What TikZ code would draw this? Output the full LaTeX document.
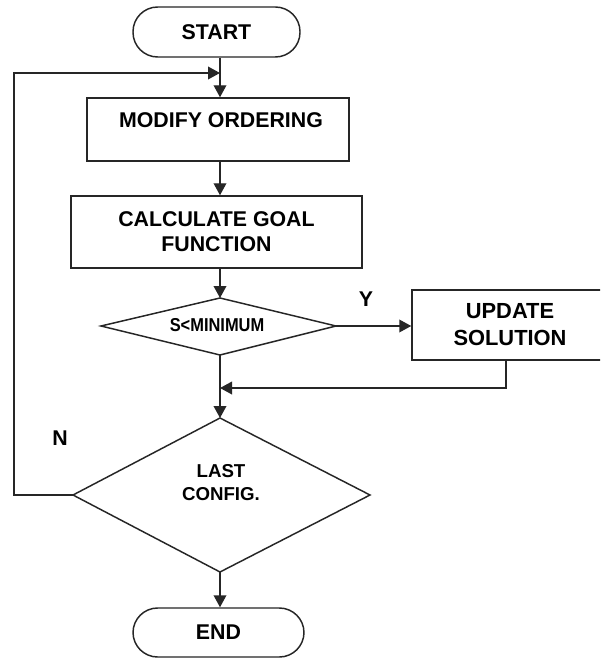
\documentclass[tikz,border=0pt]{standalone}
\usepackage{fontspec}
\setmainfont{Liberation Sans}
\usetikzlibrary{arrows.meta,calc}
\begin{document}
\begin{tikzpicture}[x=0.75pt,y=-0.75pt,
  line width=1.1pt,
  ln/.style={draw=black!85},
  arr/.style={ln,-{Triangle[length=9pt,width=9.5pt]}},
  boxnode/.style={draw=black!85,line width=1.1pt,rectangle,inner sep=0pt},
  term/.style={draw=black!85,line width=1.1pt,rectangle,rounded corners=18.5pt,inner sep=0pt,font=\fontsize{16}{19}\selectfont\bfseries},
  lbl/.style={inner sep=0pt,font=\fontsize{16}{19}\selectfont\bfseries,align=center},
  dlbl/.style={inner sep=0pt,font=\fontsize{14}{17.25}\selectfont\bfseries,align=center}]
\path[use as bounding box] (0,0) rectangle (600,659);
\clip (0,0) rectangle (600,659);
\fill[white] (0,0) rectangle (600,659);
\coordinate (ax) at (220,0);
% terminals
\node[term,minimum width=125.25pt,minimum height=37.5pt] (start) at (216.5,32) {START};
\node[term,minimum width=128.25pt,minimum height=36.75pt] (end) at (218.5,632.5) {END};
% modify ordering
\node[boxnode,minimum width=196.5pt,minimum height=47.25pt] (mod) at (218,129.5) {};
\node[lbl] (modt) at (221,120) {MODIFY ORDERING};
% calculate goal function
\node[boxnode,minimum width=218.25pt,minimum height=54pt,lbl,draw=black!85,line width=1.1pt,font=\fontsize{16}{18.75}\selectfont\bfseries] (calc) at (216.5,232) {CALCULATE GOAL\\FUNCTION};
% update solution
\node[boxnode,minimum width=147pt,minimum height=52.5pt,lbl,draw=black!85,line width=1.1pt,font=\fontsize{16.4}{20.25}\selectfont\bfseries] (upd) at (510,325) {UPDATE\\SOLUTION};
% diamond 1
\coordinate (d1t) at (220,298);
\coordinate (d1r) at (336,326);
\coordinate (d1b) at (220,355);
\coordinate (d1l) at (101,326);
\draw[ln] (d1t) -- (d1r) -- (d1b) -- (d1l) -- cycle;
\node[dlbl] (d1txt) at (217,325.5) {\scalebox{0.88}[1]{S<MINIMUM}};
% diamond 2
\coordinate (d2t) at (220,418);
\coordinate (d2r) at (370,495);
\coordinate (d2b) at (220,572);
\coordinate (d2l) at (73,495);
\draw[ln] (d2t) -- (d2r) -- (d2b) -- (d2l) -- cycle;
\node[dlbl] (d2txt) at (221,482.5) {LAST\\CONFIG.};
% labels
\node[lbl] (ylbl) at (366,299) {Y};
\node[lbl] (nlbl) at (60,438) {N};
% connectors
\coordinate (loopin) at (220,73);
\coordinate (merge) at (220,388);
\coordinate (updx) at (506,0);
\draw[ln] (start.south -| ax) -- (loopin);
\draw[arr] (loopin) -- (mod.north -| ax);
\draw[arr] (mod.south -| ax) -- (calc.north -| ax);
\draw[arr] (calc.south -| ax) -- (d1t);
\draw[arr] (d1r) -- (d1r -| upd.west);
\draw[arr] (upd.south -| updx) |- (merge);
\draw[arr] (d1b) -- (d2t);
\draw[arr] (d2b) -- (end.north -| ax);
\draw[arr] (d2l) -- (14,495) |- (loopin);
\end{tikzpicture}
\end{document}
